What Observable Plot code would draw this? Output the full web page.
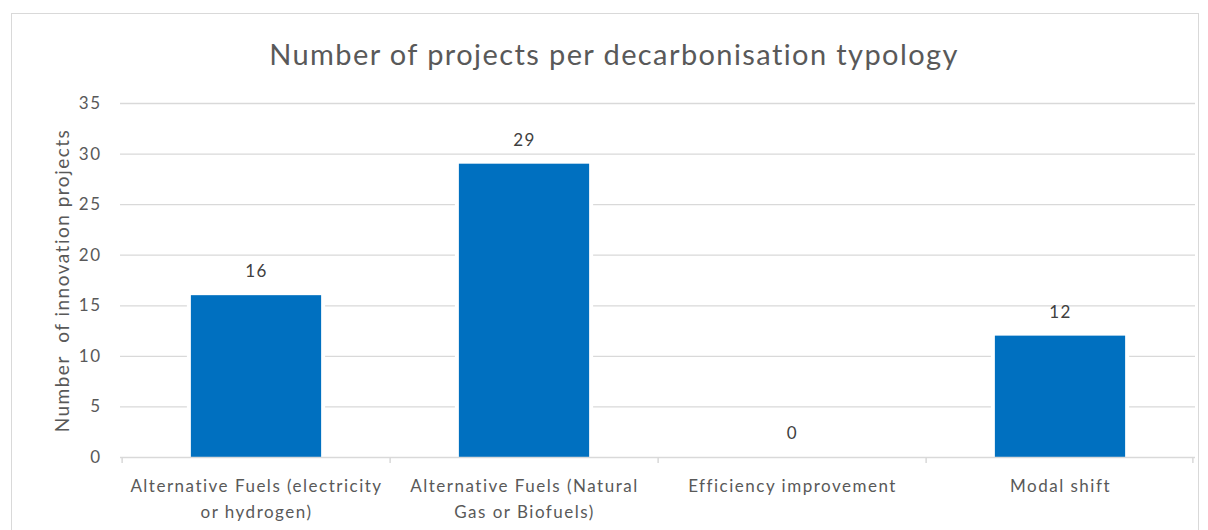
<!DOCTYPE html>
<html>
<head>
<meta charset="utf-8">
<script src="https://cdn.jsdelivr.net/npm/d3@7"></script>
<script src="https://cdn.jsdelivr.net/npm/@observablehq/plot@0.6"></script>
<style>
  html, body { margin: 0; padding: 0; background: #fff; overflow: hidden; }
  #wrap { position: relative; width: 1208px; height: 530px; font-family: Lato, "Open Sans", sans-serif; }
  #frame { position: absolute; left: 11px; top: 13px; width: 1188px; height: 540px; border: 1.5px solid #d9d9d9; box-sizing: border-box; }
  #title { position: absolute; left: 0; top: 36px; width: 1228px; text-align: center; font-size: 29px; letter-spacing: 1.4px; color: #595959; font-weight: 400; }
  #chart { position: absolute; left: 0; top: 0; }
</style>
</head>
<body>
<div id="wrap">
  <div id="frame"></div>
  <div id="chart"></div>
  <div id="title">Number of projects per decarbonisation typology</div>
</div>
<script>
const categories = [
  "Alternative Fuels (electricity or hydrogen)",
  "Alternative Fuels (Natural Gas or Biofuels)",
  "Efficiency improvement",
  "Modal shift"
];
const tickLabels = [
  "Alternative Fuels (electricity\nor hydrogen)",
  "Alternative Fuels (Natural\nGas or Biofuels)",
  "Efficiency improvement",
  "Modal shift"
];
const projects = [16, 29, 0, 12];
const yTicks = [0, 5, 10, 15, 20, 25, 30, 35];
const yLabel = "Number\u00a0 of innovation projects";

const data = categories.map((c, i) => ({category: c, value: projects[i]}));
const labelOf = new Map(categories.map((c, i) => [c, tickLabels[i]]));

const W = 1208, H = 530, mL = 120, mR = 13, mT = 103, mB = 73;
const step = (W - mL - mR) / categories.length;
const inset = (step - 131) / 2;
const grey = "#d9d9d9", txt = "#595959";

const plot = Plot.plot({
  width: W, height: H,
  marginLeft: mL, marginRight: mR, marginTop: mT, marginBottom: mB,
  style: {fontFamily: "Lato, 'Open Sans', sans-serif", background: "transparent", color: txt, overflow: "visible", letterSpacing: "1.5px"},
  x: {domain: categories, padding: 0},
  y: {domain: [0, 35]},
  marks: [
    Plot.gridY(yTicks.filter(d => d > 0), {stroke: grey, strokeOpacity: 1, strokeWidth: 1.3}),
    Plot.barY(data, {x: "category", y: "value", fill: "white", insetLeft: inset - 4, insetRight: inset - 4}),
    Plot.barY(data, {x: "category", y: "value", fill: "#0070C0", insetLeft: inset, insetRight: inset}),
    Plot.ruleY([0], {stroke: grey, strokeWidth: 1.5}),
    Plot.ruleX(categories, {x: d => d, dx: -step / 2, y1: 0, y2: -0.6, stroke: grey, strokeWidth: 1.5}),
    Plot.ruleX([categories[categories.length - 1]], {x: d => d, dx: step / 2 - 2, y1: 0, y2: -0.6, stroke: grey, strokeWidth: 1.5}),
    Plot.axisY({ticks: yTicks, tickSize: 0, tickPadding: 19, fontSize: 17, label: null, fill: txt}),
    Plot.axisX({tickSize: 0, tickPadding: 15, fontSize: 17, label: null, lineHeight: 1.58, fill: txt,
      tickFormat: d => labelOf.get(d)}),
    Plot.text([yLabel], {frameAnchor: "left", textAnchor: "middle", dx: -58, rotate: -90, text: d => d, fontSize: 19, fill: txt}),
    Plot.text(data, {x: "category", y: "value", text: d => String(d.value), dy: -24, fontSize: 17, fill: "#404040"})
  ]
});
document.getElementById("chart").appendChild(plot);
</script>
</body>
</html>
